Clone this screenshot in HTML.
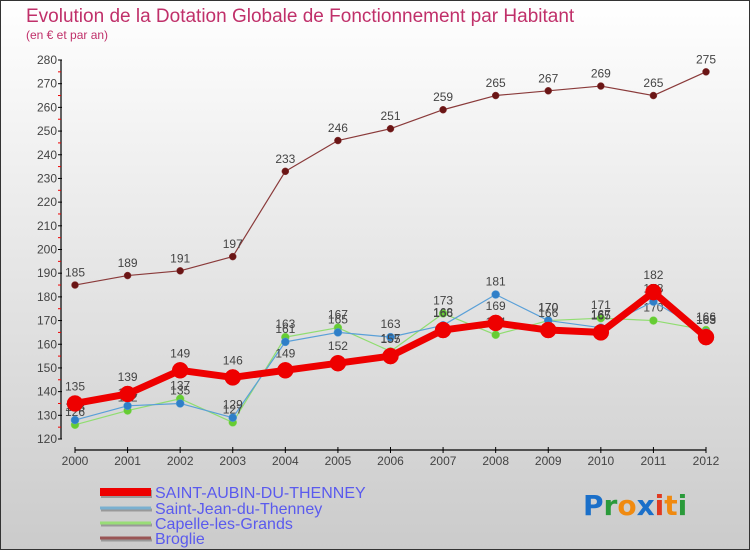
<!DOCTYPE html>
<html><head><meta charset="utf-8">
<style>
html,body{margin:0;padding:0;}
body{width:750px;height:550px;overflow:hidden;font-family:"Liberation Sans","DejaVu Sans",sans-serif;}
svg{display:block;}
</style></head>
<body>
<svg id="chart" width="750" height="550" xmlns="http://www.w3.org/2000/svg">
<defs>
<linearGradient id="bg" x1="0" y1="0" x2="0" y2="1">
<stop offset="0" stop-color="#ffffff"/><stop offset="1" stop-color="#cbcbcb"/>
</linearGradient>
</defs>
<rect x="0.5" y="0.5" width="749" height="549" fill="url(#bg)" stroke="#333" stroke-width="1"/>
<text x="26" y="22" font-size="19" fill="#c0306a">Evolution de la Dotation Globale de Fonctionnement par Habitant</text>
<text x="26" y="39" font-size="12" fill="#c0306a">(en € et par an)</text>
<g id="axes"></g>
<g id="series"></g>
<g id="legend"></g>
<g font-size="28" font-weight="bold" font-family="'DejaVu Sans',sans-serif">
<text x="583" y="515"><tspan fill="#1a6fc9">P</tspan><tspan fill="#2a9a3a">r</tspan><tspan fill="#f08a10">o</tspan><tspan fill="#1a6fc9">x</tspan><tspan fill="#e03a20">i</tspan><tspan fill="#f08a10">t</tspan><tspan fill="#2a9a3a">i</tspan></text>
</g>
</svg>
<script>
const years = [2000,2001,2002,2003,2004,2005,2006,2007,2008,2009,2010,2011,2012];
const yTicks = [120,130,140,150,160,170,180,190,200,210,220,230,240,250,260,270,280];
const saintAubin = [135,139,149,146,149,152,155,166,169,166,165,182,163];
const saintJean = [128,134,135,129,161,165,163,168,181,170,167,178,165];
const capelle = [126,132,137,127,163,167,157,173,164,170,171,170,166];
const broglie = [185,189,191,197,233,246,251,259,265,267,269,265,275];
const seriesNames = ["SAINT-AUBIN-DU-THENNEY","Saint-Jean-du-Thenney","Capelle-les-Grands","Broglie"];

const NS="http://www.w3.org/2000/svg";
function X(i){return 75+(706-75)*(i)/(years.length-1);}
function Y(v){return 439-(v-120)*(439-60)/160;}
function mk(tag,attrs,parent){const e=document.createElementNS(NS,tag);for(const k in attrs)e.setAttribute(k,attrs[k]);parent.appendChild(e);return e;}
const axes=document.getElementById('axes');
let yl=mk('line',{x1:61,y1:Y(280),x2:61,y2:Y(120),stroke:'#000','stroke-width':1.2},axes);


yTicks.forEach(v=>{
 let t=mk('line',{x1:58,y1:Y(v),x2:62,y2:Y(v),stroke:'#000'},axes);
 
 
 if(v<280){let m=mk('line',{x1:58,y1:Y(v+5),x2:61,y2:Y(v+5),stroke:'#e00'},axes);
 
 }
 let l=mk('text',{x:57,y:Y(v)+4,'text-anchor':'end','font-size':12,fill:'#444'},axes);
 l.textContent=v;
 
 
});
let xl=mk('line',{x1:X(0),y1:450,x2:X(12),y2:450,stroke:'#000','stroke-width':1.2},axes);


years.forEach((yr,i)=>{
 let t=mk('line',{x1:X(i),y1:447,x2:X(i),y2:453,stroke:'#000'},axes);
 
 
 let l=mk('text',{x:X(i),y:465,'text-anchor':'middle','font-size':12,fill:'#444'},axes);
 l.textContent=yr;
 
 
});
const sg=document.getElementById('series');
function drawSeries(vals,color,lw,r,name,dot){
 const g=mk('g',{},sg);
 
 
 let p=mk('polyline',{points:vals.map((v,i)=>X(i)+','+Y(v)).join(' '),fill:'none',stroke:color,'stroke-width':lw,'stroke-linejoin':'round'},g);
 
 
 vals.forEach((v,i)=>{
  let c=mk('circle',{cx:X(i),cy:Y(v),r:r,fill:dot,stroke:color,'stroke-width':0.5},g);
  
  
  let t=mk('text',{x:X(i),y:Y(v)-r-5,'text-anchor':'middle','font-size':12,fill:'#444'},g);
  t.textContent=v;
  
  
 });
}
drawSeries(broglie,'#8a3a3a',1.2,3.5,'broglie-series','#6a1515');
drawSeries(capelle,'#90dd70',1.2,4,'capelle-series','#66cc33');
drawSeries(saintJean,'#5aa0d8',1.2,4,'saint-jean-series','#2f7fc8');
drawSeries(saintAubin,'#ee0000',7,8,'saint-aubin-series','#ee0000');
const lg=document.getElementById('legend');
const lcol=['#ee0000','#7ab0d0','#99dd77','#995555'];
const lw=[8,3,3,3];
const ly=[492,508,523,538];
seriesNames.forEach((n,i)=>{
 let s=mk('line',{x1:101,y1:ly[i]+2,x2:152,y2:ly[i]+2,stroke:'#999','stroke-width':lw[i]},lg);
 
 
 let l=mk('line',{x1:100,y1:ly[i],x2:151,y2:ly[i],stroke:lcol[i],'stroke-width':lw[i]},lg);
 
 
 let t=mk('text',{x:155,y:ly[i]+6,'font-size':16,fill:'#5a5aee'},lg);
 t.textContent=n;
 
 
});
</script>
</body></html>
